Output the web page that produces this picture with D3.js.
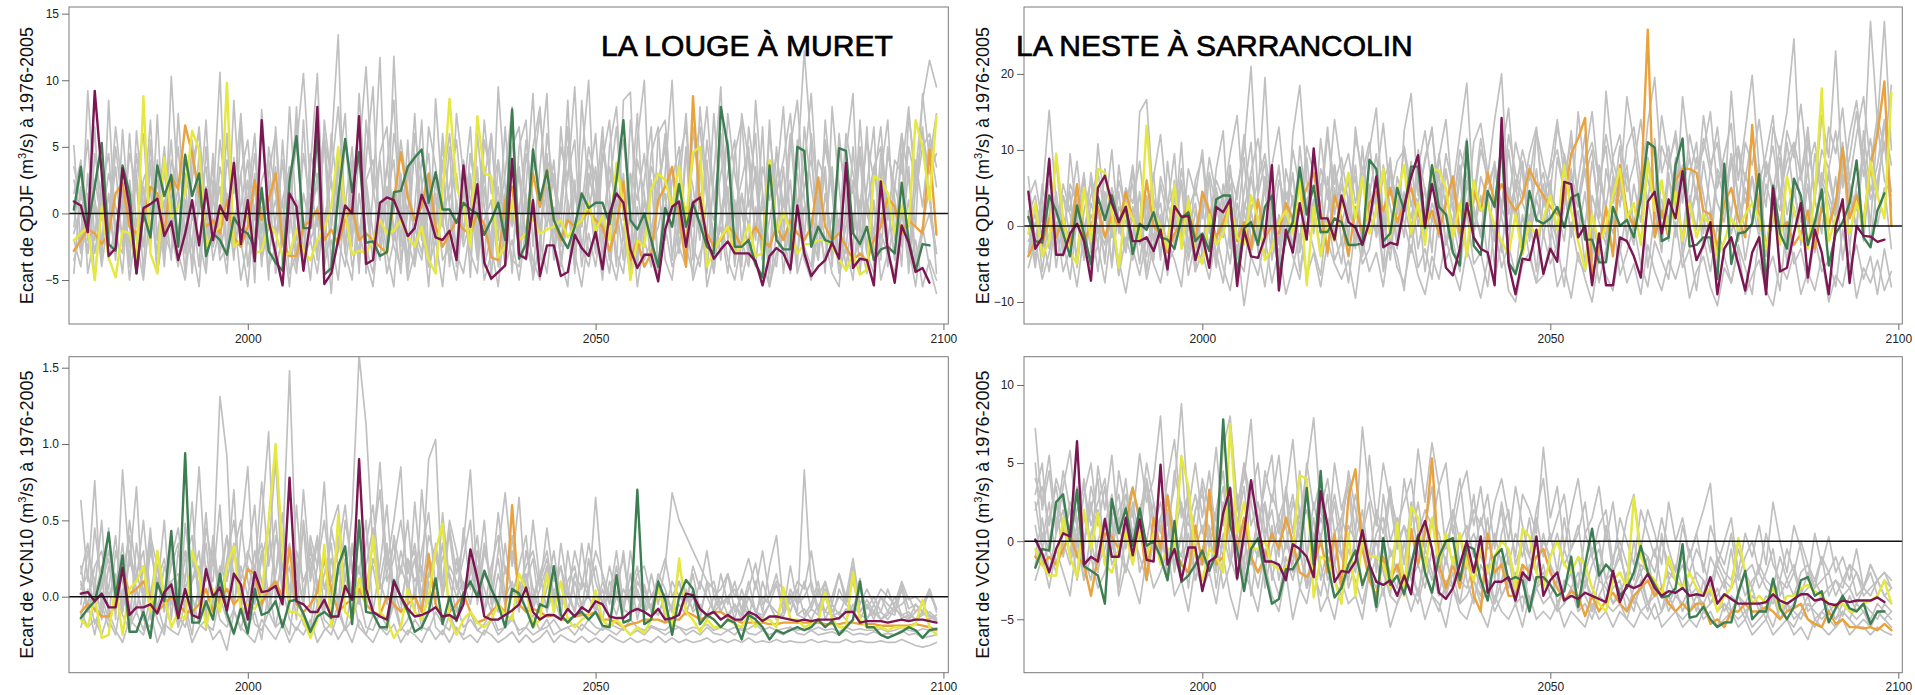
<!DOCTYPE html>
<html><head><meta charset="utf-8">
<script src="https://cdn.jsdelivr.net/npm/d3@7"></script>
<style>body{margin:0;background:#fff}svg{display:block}</style>
</head><body>
<svg id="chart" width="1915" height="695"></svg>
<script>
// Years: QDJF series run 1975-2099, VCN10 series 1976-2099
const startQ = 1975, startV = 1976;
const xTicks = [2000, 2050, 2100];

// ---------- La Louge à Muret, QDJF ----------
const louQ_purple = [0.9,0.6,-1.4,9.2,3.0,
-3.2,-2.6,3.4,0.5,-4.5,0.4,0.7,1.1,-1.7,-0.6,
-3.5,-1.5,1.0,-2.4,1.8,-2.0,0.6,-0.5,3.8,-2.3,
1.0,-3.6,7.0,-0.5,-3.0,-5.4,1.5,0.5,-4.3,-0.5,
8.0,-5.3,-4.5,-2.0,0.6,0.0,7.3,-3.8,-3.5,0.8,
1.2,1.0,-0.3,-1.7,-1.1,1.4,0.1,-1.8,-2.0,-1.3,
-3.5,3.6,-1.0,2.2,-3.7,-4.9,-4.4,-3.9,4.1,-3.1,
-3.4,1.0,-4.7,-2.4,-2.4,-4.7,-4.4,-1.6,-2.6,-3.2,
-1.4,-4.2,0.0,1.5,0.8,-2.7,-4.1,-3.1,-3.1,-5.1,
-1.2,0.5,0.9,-2.5,0.8,1.2,-2.0,-3.4,-2.7,-2.1,
-3.0,-3.0,-3.0,-3.6,-5.4,-3.2,-2.6,-3.0,-4.2,0.6,
-3.0,-4.7,-4.0,-3.5,-2.2,-3.4,3.8,-4.1,-3.4,-3.5,
-5.4,2.4,-2.7,-5.2,-0.9,-2.2,-4.4,-4.1,-5.2];
const louQ_green = [0.3,3.5,-1.0,2.0,5.3,
-2.3,-2.8,3.6,1.5,-4.5,0.0,-1.8,3.6,1.3,2.9,
-2.5,4.4,1.3,3.0,-3.2,-1.5,-2.0,-3.1,-0.3,-1.2,
-1.5,-2.6,1.9,-2.8,-3.7,-4.3,2.4,5.8,-1.1,-1.1,
6.2,-4.6,-4.1,1.2,5.6,1.6,4.6,-2.2,-2.1,-3.2,
-2.9,1.6,1.7,3.5,4.2,4.8,0.8,3.1,0.3,0.3,
-0.7,0.8,0.3,0.0,-1.6,-0.5,0.8,-2.0,7.8,-3.4,
-2.3,4.8,1.0,3.2,-0.5,-1.7,-2.6,-1.0,1.5,0.4,
0.8,0.8,-0.8,2.5,7.0,-0.5,-1.2,0.0,-2.0,-4.0,
0.4,-1.0,2.2,-1.0,0.8,-0.8,-2.5,-3.0,8.0,5.0,
-2.5,-2.5,-2.0,-3.8,-4.8,3.6,-2.0,-2.7,-2.7,5.0,
4.7,-2.5,-1.0,-2.0,-2.2,4.9,4.7,-1.5,-2.3,-1.0,
-3.5,-2.7,-2.5,-3.0,2.3,-2.0,-4.3,-2.3,-2.4];
const louQ_yellow = [-2.0,-1.5,-1.0,-5.0,0.5,
-3.3,-4.8,-1.3,-1.5,-3.5,8.8,-3.0,-4.5,4.2,-0.3,
0.5,1.5,6.2,4.8,-2.5,-1.5,-1.0,9.8,-2.5,-2.0,
0.5,-3.0,-2.8,-0.7,-1.5,-3.2,-3.0,-1.2,-2.8,-3.5,
-2.0,-1.2,0.5,5.0,0.2,-3.1,-2.8,-3.0,-2.0,-0.5,
-1.5,-1.3,-0.5,-1.7,-2.5,-1.0,-3.5,-4.5,1.5,8.6,
2.0,0.5,-2.5,7.3,3.0,2.8,-3.3,-2.5,1.0,-2.0,
-1.5,-0.3,-1.5,-1.2,-1.0,-0.5,-1.8,-1.0,-0.5,0.8,
-1.3,-0.2,-2.0,3.8,0.5,-5.0,-2.0,-2.5,1.8,3.0,
2.5,0.5,3.5,-0.6,4.6,5.0,-4.0,-2.8,-1.8,-1.0,
-3.0,-2.5,-0.8,-3.2,-3.0,4.0,-1.5,0.1,-1.3,-3.0,
-2.3,-2.3,-2.0,-2.0,-2.5,-3.4,-4.3,-3.0,-4.6,-4.2,
2.8,2.5,1.5,-1.5,0.5,-1.0,7.0,5.0,1.0,7.3];
const louQ_orange = [-2.8,-2.0,-1.2,-1.5,-2.3,
-1.5,1.5,2.3,-1.0,-1.5,-0.5,2.0,1.5,-1.5,2.8,
1.8,6.6,4.5,1.5,-1.0,-0.5,-1.5,1.0,-1.8,-2.5,
-1.0,2.5,-0.5,1.0,3.0,-2.2,-3.2,-3.2,-1.0,-0.5,
0.3,-2.0,-1.2,-2.3,-0.5,0.5,-2.0,-1.5,-2.0,-2.5,
-3.0,1.0,4.6,1.2,-0.5,0.5,3.0,-1.0,-2.5,-1.5,
-0.5,-1.2,-1.5,0.0,-0.8,-3.3,-3.5,1.0,2.0,-2.0,
-1.5,3.0,0.5,3.3,-0.5,-2.0,-0.5,-1.0,-0.5,0.2,
-0.5,-1.0,-2.8,-1.0,2.4,-3.5,-2.0,-4.0,-3.0,1.0,
2.0,3.5,0.0,-4.0,8.8,0.5,-1.5,-2.5,-2.0,-1.0,
-1.5,-2.5,-2.0,-1.0,-2.0,-2.5,-1.0,-2.0,-0.5,-1.5,
-2.0,-1.0,2.7,-1.0,-2.0,-1.5,-2.5,-3.5,-3.0,-3.6,
-2.0,-1.0,1.2,0.5,-1.5,-0.5,-1.0,-1.5,4.8,-1.6];
const louQ_grey = [
[5.1,-2.5,9.2,1.0,-3.5,8.5,-1.5,2.0,-4.0,6.2,0.5,-2.8,7.4,-3.0,10.3,1.5,-4.5,3.8,6.0,-2.0,0.8,10.6,-3.5,4.2,-1.0,2.5,-5.2,7.8,0.3,-3.8,5.5,-1.5,8.0,-4.0,3.5,10.5,-2.0,4.8,13.4,-3.0,2.0,6.5,-4.5,1.5,11.7,-2.5,11.8,0.5,-3.5,6.0,2.5,-4.0,8.6,1.0,-2.5,7.5,3.0,-4.8,6.0,0.5,-3.0,9.5,2.0,-4.5,5.0,7.0,-2.5,3.5,9.0,-3.5,1.0,6.5,-4.5,4.0,10.0,-2.0,5.5,1.5,-4.0,8.5,9.1,-3.0,2.5,6.5,-4.5,3.0,10.0,-1.5,5.0,-3.5,8.0,2.0,-4.0,6.0,1.0,-3.5,7.5,4.0,-2.0,6.5,-4.5,2.5,8.0,-1.0,3.5,12.2,5.0,-3.5,7.0,1.5,-4.0,4.5,9.0,-2.5,2.0,6.5,-3.5,5.0,1.0,-4.0,7.5,3.0,8.5,11.5,9.5],
[-4.5,2.0,-1.0,6.5,-2.8,1.5,-3.5,6.3,-0.5,3.0,-4.5,5.5,-2.0,1.0,-3.5,7.5,0.0,-2.5,4.5,-4.0,2.5,-1.5,6.0,-3.0,0.5,4.0,-2.0,1.5,-5.0,6.5,-1.0,3.5,-3.5,7.0,-2.0,-0.5,5.5,-4.0,3.0,7.5,-2.5,9.0,0.5,-3.5,4.5,6.5,-2.0,3.0,-4.5,0.5,7.0,-3.0,2.5,-1.0,5.0,-4.0,1.5,6.5,-2.5,3.5,-5.0,4.0,0.0,7.5,-3.0,2.0,9.0,-2.0,4.5,-3.5,6.5,0.5,-4.0,8.5,1.5,-3.0,4.0,7.0,-1.5,3.0,-4.0,5.5,10.0,-2.5,1.0,6.0,-3.5,2.0,7.5,-1.0,4.0,-4.5,3.0,9.5,-2.0,1.0,-4.0,6.5,2.5,-3.0,7.0,-1.5,3.5,-4.0,5.5,-2.0,6.0,1.0,-4.5,8.0,2.0,-3.0,5.0,-1.5,6.5,-4.0,3.0,7.0,-2.0,4.5,-4.5,2.0,6.5,1.0,-3.0],
[-2.0,-4.0,1.5,-3.0,0.5,-3.5,-1.0,-4.5,2.5,-2.0,-5.0,0.5,-3.0,3.5,-1.5,-4.0,1.0,-2.5,-5.5,2.0,-3.5,-1.0,-4.5,3.0,-2.0,-5.5,0.5,-3.0,2.5,-4.5,-1.5,-5.5,1.0,-3.5,-2.0,-4.5,0.0,-6.0,2.0,-3.0,-5.0,1.5,-2.5,-4.5,0.5,-3.0,-5.5,2.5,-2.0,-4.0,0.0,-5.5,1.5,-3.5,-2.5,-5.0,0.5,-3.0,-4.5,2.0,-2.5,-5.5,0.0,-3.5,-4.0,1.5,-5.0,-2.0,-4.5,0.5,-3.5,-5.5,2.0,-2.5,-4.0,-1.0,-5.0,1.0,-3.0,-4.5,0.5,-5.5,-2.0,-4.0,2.5,-3.5,-5.0,0.0,-2.5,-4.5,1.5,-5.5,-3.0,-1.0,-4.5,0.5,-5.0,-2.5,-4.0,1.5,-5.5,-3.0,-1.5,-4.5,0.0,-3.5,-5.0,1.0,-2.0,-4.5,-5.5,0.5,-3.5,-2.0,-4.5,1.0,-5.0,-3.0,-4.5,0.0,-2.5,-5.5,-1.0,-4.0,-6.0],
[2.5,0.0,-3.0,4.5,1.0,-2.5,5.0,0.5,-3.5,3.0,6.0,-1.5,1.5,-4.0,4.0,2.0,-3.0,5.5,0.0,7.0,-2.5,3.5,1.0,-3.5,6.5,-1.0,3.0,-4.0,5.0,1.5,-2.0,8.0,0.0,-3.0,4.5,2.5,-3.5,6.0,1.0,-2.5,4.0,-4.5,7.0,2.0,-1.5,3.5,8.5,-2.5,5.5,-3.5,2.0,4.5,-2.0,6.0,0.5,-2.5,4.0,1.0,-3.5,5.5,2.5,-2.0,6.5,-1.0,3.0,-3.0,5.0,8.0,0.0,4.0,-2.5,3.0,5.5,-3.0,2.0,6.0,-1.5,3.5,0.5,-3.5,7.0,2.0,-2.5,4.5,6.5,-2.0,2.5,5.0,-3.0,6.5,1.0,-1.5,7.5,0.0,3.0,5.5,-2.5,1.5,6.0,-3.5,4.0,2.0,-2.0,5.0,8.5,1.0,-2.5,4.0,2.5,-3.5,6.0,0.5,-1.5,4.5,-3.0,3.5,5.0,-2.0,2.0,6.0,-3.5,4.0,0.5,5.5,2.0],
[-1.0,3.5,-4.5,-1.5,2.0,4.5,-2.0,-3.0,6.0,-1.0,2.5,4.0,-4.5,0.0,5.5,-2.5,3.0,0.5,-4.0,5.0,-1.0,2.0,-3.0,8.5,-0.5,1.0,6.0,-2.5,-1.0,3.5,-4.0,2.5,6.5,-1.5,0.5,-3.5,7.0,2.5,-2.0,5.5,0.0,-3.0,4.0,9.5,-2.5,1.5,4.0,-3.5,0.0,7.5,-1.5,3.0,-4.5,2.0,6.0,0.5,-2.0,4.5,2.5,-4.0,6.0,-0.5,3.0,8.0,-2.0,4.5,1.0,-3.5,6.0,2.0,-1.0,8.5,-2.5,0.5,5.0,2.5,-3.5,5.0,8.0,0.0,-2.5,4.0,1.5,-4.0,6.0,7.0,0.5,-3.0,4.5,2.0,-2.0,5.5,1.0,-3.5,7.5,3.0,0.0,-2.5,8.5,1.5,-3.5,5.0,-1.0,2.5,-4.0,6.5,2.0,-1.5,3.5,-4.0,5.0,1.5,-3.0,7.0,0.0,-2.0,4.5,1.0,-3.5,6.0,2.5,-1.0,9.0,4.0,7.5],
[0.5,-3.0,3.0,-5.0,1.5,-1.0,3.5,-2.5,0.0,-4.5,2.0,-1.5,4.0,-3.5,1.0,-1.5,2.5,-4.5,1.5,-2.0,4.5,-3.0,0.0,-1.5,3.0,-4.0,0.5,2.0,-3.0,-0.5,4.0,-2.5,-4.5,1.5,-1.0,3.0,-4.0,-1.0,4.5,-2.5,1.0,-4.0,2.5,-1.5,-3.5,2.0,-1.0,-4.5,3.5,-2.0,-3.5,1.0,-1.5,4.0,-4.0,1.0,-2.5,-0.5,3.5,-4.0,-1.5,2.0,-3.5,0.5,3.5,-2.0,-4.5,1.5,-1.0,3.0,-3.5,-0.5,2.5,-4.0,0.0,3.5,-2.0,-4.5,1.0,-1.5,3.0,-3.5,-0.5,2.5,-4.0,0.5,3.5,-2.5,-4.0,1.0,-1.5,4.0,-3.0,-0.5,2.0,-4.0,1.5,-1.0,3.5,-3.0,-0.5,2.5,-4.5,0.0,3.0,-2.5,-4.0,2.0,-0.5,3.5,-3.5,-1.0,2.5,-4.5,1.0,-1.5,3.0,-4.0,0.5,-2.5,3.5,-3.5,-1.0,2.0,-4.5],
[3.5,1.0,5.5,-2.0,2.5,-0.5,6.5,1.5,-2.5,4.5,0.0,7.0,-2.0,3.0,1.0,5.0,-1.5,2.5,6.5,-0.5,3.5,-2.5,4.0,1.5,7.5,0.0,4.5,-1.5,3.0,6.0,-2.5,1.5,5.0,10.5,2.0,-1.0,5.5,3.0,8.0,0.5,-2.0,4.5,11.0,1.5,4.0,-1.5,6.0,2.5,0.0,4.5,-2.0,6.5,3.5,-0.5,2.0,5.5,0.0,3.0,-1.5,7.0,1.5,4.0,-2.0,5.0,6.5,0.0,3.0,7.5,1.5,-1.5,5.0,2.5,9.5,-1.0,4.0,1.0,6.5,-1.0,3.0,5.5,0.5,7.5,-1.5,3.5,2.0,5.0,0.0,4.0,6.5,-1.0,3.0,8.0,1.0,5.0,-1.5,4.5,7.0,0.5,3.0,-2.0,6.0,1.5,4.0,7.5,0.5,3.5,9.0,0.5,5.0,2.0,-1.5,6.0,3.0,0.5,5.5,2.5,6.5,-0.5,4.0,3.0,8.0,1.5,5.0,6.0,3.5],
[-3.5,-1.5,-2.5,0.5,-4.0,0.0,-3.0,1.0,-5.0,-0.5,-2.5,2.0,-4.5,-1.0,0.5,-3.0,-5.0,0.0,-2.0,-4.5,1.5,-3.5,-2.5,0.0,-5.0,-2.0,-3.5,0.5,-4.0,-2.5,1.0,-4.5,-3.0,-1.0,-5.0,0.5,-3.0,-2.0,-5.0,1.0,-4.0,-1.5,-3.5,-5.5,0.0,-4.5,-2.0,0.5,-5.0,-3.0,1.5,-4.0,-2.0,-5.5,0.0,-3.0,-4.5,-1.0,0.5,-5.0,-3.0,1.0,-4.0,-2.0,-5.0,-1.0,-3.5,-5.0,0.5,-2.5,-4.0,1.0,-3.0,-5.5,-1.5,-4.0,0.0,-3.0,-5.0,-1.5,-4.5,0.5,-3.5,-2.0,-5.0,-1.0,-4.0,-2.5,0.5,-5.0,-3.0,-1.5,-4.5,0.0,-3.5,-5.0,-2.0,-4.0,0.5,-3.5,-5.5,-1.5,-3.0,0.0,-4.5,-2.5,-5.0,-1.0,-3.5,0.0,-4.5,-2.5,-5.0,1.0,-3.0,-4.5,-1.5,-3.0,-5.0,0.5,-4.0,-2.0,-5.5,-3.5,-5.0],
[1.5,4.0,-2.0,2.5,-0.5,3.0,0.5,-1.5,4.5,2.0,-2.5,3.5,0.0,5.0,-1.0,2.0,4.5,-0.5,1.5,3.5,-2.0,5.5,1.0,-1.5,3.0,5.5,-0.5,2.5,4.0,-1.5,1.0,3.5,-2.0,4.5,0.5,2.0,6.0,-1.0,3.5,0.5,5.0,-2.0,2.5,4.0,-0.5,3.5,0.0,5.5,1.5,-1.5,4.0,2.0,-0.5,5.0,1.0,3.0,-1.5,4.5,0.5,2.5,6.0,-1.0,1.5,3.5,0.0,5.5,1.0,-1.5,4.0,2.5,0.0,5.0,1.5,-1.0,3.0,0.5,4.5,2.0,6.5,-0.5,3.0,1.0,4.5,-1.5,2.5,5.0,0.5,3.5,-1.0,4.0,6.5,1.0,-0.5,3.0,5.5,0.0,2.5,5.0,-1.5,3.5,1.0,4.5,0.5,6.0,-0.5,2.0,4.0,0.0,5.5,2.5,-1.0,3.0,1.5,5.0,0.5,3.5,-1.0,4.5,2.0,0.0,5.0,2.5,6.0,3.0,4.5],
[-1.5,0.5,-3.0,1.0,-2.0,0.0,-2.5,1.5,-1.0,-3.5,0.5,-2.0,2.5,-1.5,-3.0,1.0,-1.5,-3.5,0.5,2.0,-2.5,-0.5,1.5,-3.0,0.0,-2.0,2.0,-3.5,-1.0,1.0,-2.5,0.5,-4.0,-1.5,1.5,-3.0,-0.5,2.5,-2.0,-4.0,0.0,-1.5,2.0,-3.5,-0.5,1.0,-2.5,-4.0,0.5,-1.0,-3.0,2.0,-2.0,-0.5,-3.5,0.5,-1.5,2.5,-3.0,-0.5,1.0,-4.0,-2.0,0.0,-2.5,-3.5,0.5,-1.5,2.0,-2.5,-4.0,0.0,-1.0,1.5,-3.0,-1.5,0.0,-3.5,2.0,-2.0,-0.5,-4.0,1.0,-2.5,-1.0,1.5,-3.0,-1.0,0.5,-2.5,-4.0,1.0,-1.5,-3.0,0.0,-2.0,1.5,-3.5,-1.0,0.5,-2.5,-4.0,1.0,-2.0,-3.0,0.5,-1.5,-3.5,1.5,-2.0,-0.5,-4.0,0.0,-2.5,1.0,-3.0,-1.0,0.5,-3.5,-2.0,1.0,-4.0,-1.5,0.0,-3.0]
];

// ---------- La Neste à Sarrancolin, QDJF ----------
const nesQ_purple = [4.5,-3.0,-1.5,8.8,-3.8,
-3.8,-1.0,0.3,-2.0,-7.2,5.0,6.6,3.0,0.5,2.5,
-2.0,-2.0,-1.5,-3.3,-0.5,-5.7,2.6,1.2,1.3,-4.5,
-1.2,-5.5,2.5,1.8,3.5,-7.9,-0.5,-4.0,-4.2,-1.5,
8.0,-8.5,-0.5,-3.5,3.0,-1.8,10.2,1.0,1.0,-1.8,
4.0,0.5,-0.2,-2.5,0.5,6.5,-2.8,-2.2,-2.5,2.5,
6.5,9.3,0.0,5.5,1.0,-5.5,-6.5,-3.0,3.0,-1.5,
-3.0,-3.5,-7.8,14.2,-5.0,-9.0,-4.3,-4.5,-0.5,-6.3,
-3.0,-4.7,5.8,5.5,-1.5,0.0,-7.8,-1.0,-7.8,-7.8,
-1.5,-2.0,-4.0,-6.8,3.2,4.5,-1.0,3.5,1.0,7.2,
0.0,-4.5,-2.5,0.5,-9.0,-3.0,-1.5,-5.0,-8.5,-3.5,
-1.5,-9.0,5.0,-6.0,-5.5,-1.0,3.0,-6.8,-0.5,-3.5,
-9.0,0.0,3.5,-7.5,0.0,-1.3,-1.4,-2.1,-1.8];
const nesQ_green = [1.2,-2.0,-2.2,4.0,2.0,
-1.0,-4.0,2.7,-1.0,-5.0,3.8,0.8,4.0,0.5,2.5,
-3.7,0.3,-0.5,1.8,-1.5,-1.8,-3.0,1.0,1.8,-2.0,
-1.0,-3.3,3.5,4.0,4.0,-6.5,-0.3,0.5,-2.5,2.5,
4.0,-6.8,-1.5,0.5,7.7,1.5,5.3,-0.8,-0.8,1.0,
0.5,-2.5,-2.5,-2.3,8.7,7.5,-2.0,-1.0,5.0,2.0,
7.8,7.8,-0.3,8.0,2.5,1.5,-3.5,-5.2,11.1,-2.6,
-3.8,4.6,2.5,10.8,-4.8,-6.3,-3.0,4.6,0.8,0.3,
1.0,2.5,-0.2,3.7,4.2,-1.8,-1.8,-4.8,-4.8,2.5,
0.0,0.8,-1.5,3.5,11.0,10.3,-2.0,-1.5,8.0,11.5,
-2.7,-2.5,-1.5,-1.5,-7.0,8.2,-5.0,-1.0,-0.8,0.3,
6.8,-8.2,5.3,-1.0,-3.0,6.2,4.0,-2.5,0.5,4.8,
-5.2,-1.0,0.5,3.0,8.6,-1.5,-2.8,2.0,4.3];
const nesQ_yellow = [-1.0,3.0,-4.0,-2.0,9.5,
1.0,-3.5,-5.0,5.0,-2.0,7.5,7.0,2.0,-5.5,3.0,
1.0,-2.0,13.2,1.5,0.0,-3.0,5.5,-3.0,3.5,-3.5,
-5.0,1.5,-2.5,-1.0,3.0,-1.5,-2.5,4.0,1.0,-4.5,
-3.0,0.5,2.0,-1.0,6.0,-7.8,2.5,-4.0,0.5,-2.0,
2.5,7.0,1.0,6.5,-1.0,2.0,7.5,-1.5,4.0,8.0,
-1.0,3.0,-2.5,7.5,7.3,5.0,-1.5,3.0,-4.0,6.0,
2.0,3.0,0.0,-2.0,-3.8,1.5,-3.8,0.5,-1.5,1.0,
4.0,-0.5,8.0,2.0,-2.0,-5.7,1.5,-2.5,0.0,4.0,
7.5,1.0,3.0,-2.5,8.5,2.0,6.0,-1.0,4.5,-2.0,
3.0,-1.5,1.5,0.0,-4.0,-2.0,1.0,-0.5,1.5,3.0,
1.0,-3.0,2.0,-2.5,6.5,2.0,-1.5,-3.0,4.0,18.1,
-2.0,1.0,2.5,-1.0,3.0,0.0,8.5,4.0,1.0,17.5];
const nesQ_orange = [-4.0,-2.0,-2.5,1.0,-1.5,
1.0,-3.0,5.5,-2.0,0.0,2.5,-1.5,1.5,0.0,4.5,
1.0,-1.5,6.0,0.0,-1.0,-3.5,-1.0,0.5,3.0,-2.0,
4.5,2.0,-1.5,0.5,3.0,-2.0,0.5,-3.0,3.5,-1.5,
0.0,-1.0,3.0,1.0,2.5,5.0,7.0,2.0,-3.5,4.0,
1.0,-4.0,2.5,-1.0,3.0,4.5,2.0,5.0,0.5,3.0,
5.0,1.5,0.0,2.0,-1.0,3.0,6.5,-1.0,2.0,4.5,
2.0,7.0,3.0,5.5,3.5,2.0,3.5,7.5,5.5,4.0,
2.5,1.5,3.5,9.5,11.5,14.2,-6.5,-3.0,2.5,-4.0,
8.0,2.0,0.0,4.0,25.8,-1.5,2.0,-1.5,6.0,7.5,
7.5,7.0,2.0,1.5,-3.0,3.0,5.0,1.0,-1.5,13.3,
1.0,-3.0,3.0,-0.5,0.5,-2.5,-1.0,2.0,-3.0,2.5,
0.0,3.0,10.3,1.0,4.0,0.5,8.0,12.0,19.0,0.0];
const nesQ_grey = [
[6.5,-2.0,4.0,15.2,3.0,-4.0,9.5,1.0,7.0,-3.5,10.8,2.0,-5.0,8.0,1.5,-2.0,15.0,16.6,3.0,-4.5,8.5,0.0,11.0,-3.0,6.0,9.0,-1.0,7.5,12.5,-3.0,5.0,10.0,21.0,4.0,19.5,2.0,8.0,-2.5,12.0,18.5,6.0,-1.0,11.5,3.5,14.0,7.0,-2.0,13.0,5.5,10.0,15.5,1.0,9.0,-3.0,12.5,17.4,4.0,8.5,13.0,1.5,9.5,5.0,12.0,18.8,3.0,10.0,6.5,14.0,20.0,2.5,11.0,7.0,-1.5,12.5,8.0,4.5,13.0,9.0,2.0,15.0,6.5,10.0,1.0,17.7,8.5,5.0,17.0,11.0,3.5,13.5,19.5,7.0,10.5,2.0,17.0,9.0,4.0,14.5,8.0,11.0,3.0,17.7,6.0,12.5,19.8,7.5,2.5,13.0,9.5,15.0,24.6,6.0,11.0,4.5,14.5,9.0,23.0,5.5,12.0,16.5,8.0,26.9,13.5,26.9,10.0],
[-3.5,3.0,-6.0,1.5,8.5,-1.0,4.5,-5.5,2.0,6.0,-3.0,7.5,0.5,-6.5,3.5,5.5,-2.5,1.0,7.0,-4.0,2.5,9.5,-3.0,4.0,-6.0,3.0,6.5,-4.5,1.5,8.0,-2.0,4.5,11.0,-3.5,6.0,1.0,-5.0,7.5,3.0,-2.5,9.0,0.5,5.5,-4.0,8.0,2.5,6.0,-3.0,10.5,1.0,4.0,-5.5,7.0,3.5,-1.5,8.5,0.0,5.0,-3.5,9.5,2.0,-2.0,6.5,11.5,-1.0,4.0,-4.5,7.5,1.5,10.0,3.0,-3.0,8.0,0.5,5.5,-2.5,9.0,4.5,-1.0,6.0,12.0,1.5,-4.0,7.5,3.0,10.5,-2.0,5.5,0.5,8.5,2.5,-3.5,9.0,4.0,-1.5,6.5,11.0,1.0,-3.5,7.0,3.5,9.5,-2.0,5.0,0.5,8.0,-4.0,4.5,10.5,1.5,6.0,-2.5,12.0,3.5,-1.0,7.5,2.0,11.0,-3.0,5.5,9.0,0.0,13.5,6.0,4.0],
[-5.5,-2.0,-7.0,-3.5,0.5,-6.0,-3.0,-8.0,-1.0,-5.5,-2.5,-7.5,0.0,-4.5,-8.8,-3.0,-6.5,-1.5,-5.0,-7.5,-2.0,-4.5,-8.0,0.5,-6.0,-3.5,-7.0,-1.0,-5.5,-8.5,-2.5,-10.5,-4.0,-6.5,-1.5,-7.5,-3.0,-9.0,-5.5,-1.0,-6.5,-3.5,-8.0,-2.0,-5.0,-7.0,-4.5,-9.5,-2.0,-6.0,-3.5,-8.0,-1.0,-5.5,-7.5,-2.5,-6.5,-9.0,-4.0,-7.0,-1.5,-5.5,-8.5,-3.0,-6.0,-9.5,-4.5,-7.0,-2.0,-8.5,-10.0,-5.0,-3.5,-7.5,-6.5,-2.0,-8.0,-5.5,-9.5,-3.5,-7.0,-10.0,-4.0,-6.5,-8.5,-3.0,-7.5,-5.0,-9.0,-2.5,-6.0,-8.5,-4.5,-7.0,-3.5,-9.5,-6.0,-4.0,-8.0,-10.5,-5.5,-7.5,-3.0,-9.0,-6.5,-4.5,-8.5,-10.5,-5.0,-7.0,-3.5,-9.0,-6.0,-8.5,-4.0,-10.0,-6.5,-8.0,-3.0,-9.5,-5.5,-7.5,-4.5,-8.5,-6.0],
[2.0,-4.5,5.5,0.0,-3.0,4.0,1.5,-4.0,6.5,-1.5,2.5,-5.0,5.0,0.0,-3.5,7.5,-1.0,3.5,-4.5,5.5,1.0,-2.5,6.0,-0.5,3.0,-4.0,7.0,2.5,-1.5,5.5,0.0,9.0,-2.5,4.0,8.5,-1.5,6.0,3.0,-3.0,10.5,2.0,-0.5,7.5,4.5,-2.0,5.5,1.0,8.0,-2.5,4.0,9.5,0.5,-3.0,6.5,3.0,-1.5,10.0,4.5,0.5,7.0,-2.5,5.0,2.0,9.0,-1.0,6.5,3.5,-2.0,11.0,1.5,5.5,8.5,-0.5,4.0,7.0,1.0,-2.0,9.5,5.0,2.5,7.5,-1.5,6.0,10.5,0.5,4.5,8.0,-0.5,6.5,3.0,11.5,1.0,7.0,-1.5,5.5,2.5,9.0,4.0,-1.0,7.5,5.5,1.5,10.0,3.0,6.5,-0.5,8.5,5.0,2.0,11.0,4.0,7.0,0.0,9.5,3.5,6.5,1.5,10.5,5.0,-1.0,12.5,4.5,8.0,14.0,2.5],
[-1.0,1.5,-3.5,4.0,-5.5,1.0,-2.5,3.5,-4.5,0.5,-6.0,2.5,-1.5,4.5,-3.5,1.5,-5.0,3.0,-2.0,0.0,-6.5,4.0,-1.5,-4.0,2.0,-2.5,0.5,-5.5,3.5,-1.0,-6.0,2.0,-3.5,0.0,5.0,-4.5,1.5,-2.0,4.0,-6.0,0.0,3.0,-3.5,6.5,-1.0,-5.0,2.5,0.0,-3.0,5.5,-1.5,2.0,-4.5,4.0,0.5,-3.5,3.5,-6.0,1.0,5.0,-2.5,0.5,7.0,-4.0,2.0,-1.0,4.5,-5.5,2.5,-0.5,6.0,-3.0,1.5,-6.0,3.5,0.0,-4.0,5.5,-1.5,2.0,-5.0,4.0,0.5,-2.5,6.5,-3.5,2.0,-0.5,5.0,-5.5,1.5,3.5,-2.0,7.0,-4.0,0.5,4.5,-3.0,2.0,-6.0,5.5,-1.0,3.0,-4.5,1.0,6.0,-2.5,0.5,4.5,-5.0,2.5,-1.5,5.5,-3.5,3.0,-0.5,6.5,-4.5,2.0,4.5,-2.0,8.0,0.0,5.0,-3.0],
[3.5,6.0,0.5,9.0,-1.5,5.5,2.0,8.5,-0.5,4.0,7.0,1.5,10.0,-1.0,5.0,3.0,8.5,0.0,6.5,12.0,2.5,5.0,-1.5,7.5,4.0,10.0,1.0,6.0,3.5,9.5,14.5,2.0,7.0,11.5,4.5,8.0,13.0,3.5,6.5,1.5,10.5,7.0,2.5,12.0,5.5,9.0,3.0,11.5,7.5,1.0,6.0,13.5,4.0,8.5,10.0,2.5,7.5,12.5,5.0,9.0,14.0,3.5,8.0,1.5,11.0,13.5,7.0,3.0,9.5,15.5,4.5,10.0,6.0,12.5,2.5,8.0,14.0,6.5,11.0,3.5,9.0,15.0,5.5,12.0,7.0,2.5,10.5,13.0,6.0,9.0,4.0,14.5,8.5,11.5,3.0,12.0,7.5,10.0,15.0,5.0,9.5,13.5,2.5,11.0,8.0,14.0,6.5,10.5,3.5,12.5,9.0,16.0,7.5,11.0,5.0,13.0,9.5,15.5,6.0,12.0,17.0,8.0,14.5,10.0,18.5],
[0.0,-5.5,2.5,-2.0,4.5,-3.0,0.0,5.5,-4.5,1.5,-1.0,4.0,-5.5,2.5,0.5,-2.5,4.5,-6.0,0.5,3.0,-3.5,1.0,5.5,-4.5,0.0,2.5,-3.0,5.0,0.0,-5.0,3.0,-1.5,6.5,1.0,-4.0,4.5,-2.0,0.5,7.0,-3.5,3.5,5.0,-1.0,1.5,8.0,-2.5,3.0,6.5,-4.0,1.5,4.5,-1.5,7.5,0.0,3.5,5.5,-3.0,2.0,8.0,-1.5,4.0,0.5,-4.0,6.0,2.5,-1.5,7.0,3.0,-3.5,5.0,1.0,8.5,-2.0,3.5,0.0,6.0,-3.0,2.5,7.5,-0.5,4.5,-4.5,8.0,2.0,-1.0,5.5,1.0,-2.5,7.0,3.5,-1.5,6.0,0.5,9.0,-3.0,4.0,-0.5,8.5,2.5,-4.0,6.5,1.0,-2.0,7.0,3.0,-1.5,5.5,2.0,9.0,-3.0,4.5,0.5,7.5,-2.0,6.0,3.0,-1.0,8.5,4.0,0.0,10.0,-2.5,6.0,11.0,1.5],
[-4.0,0.5,-1.0,-6.0,2.0,-2.0,-7.0,1.0,-3.5,-5.5,0.0,-4.0,2.5,-6.5,-1.5,-4.5,0.0,-7.0,-2.5,1.5,-5.0,-3.0,0.5,-6.5,-2.0,-5.0,1.5,-3.5,-7.5,0.0,-4.0,-6.0,2.0,-3.0,-8.0,-1.5,-5.5,2.5,-4.0,-7.0,0.5,-3.0,-6.5,1.5,-4.5,-2.0,-7.5,0.0,-5.0,-3.0,2.5,-6.0,-1.5,-4.0,-8.5,0.5,-5.5,-3.0,-7.0,1.0,-4.5,-2.0,-6.0,2.0,-5.0,-3.5,-8.0,0.0,-5.5,-2.5,-6.5,1.5,-4.0,-7.5,-1.0,-5.0,-2.5,-8.0,0.5,-4.5,-6.0,-1.5,-7.5,-3.0,1.0,-6.5,-3.5,0.0,-5.0,-8.0,-2.0,-4.5,-7.0,0.5,-5.5,-3.0,-8.5,-1.5,-6.0,0.0,-4.0,-7.5,-2.5,-5.5,-9.0,-1.0,-6.5,-4.0,-8.5,0.5,-5.0,-3.0,-7.5,-1.5,-6.0,-4.5,-8.0,-0.5,-5.5,-2.5,-7.0,-4.0,-9.0,-3.0,-8.0],
[1.5,4.0,-2.0,6.0,2.5,-1.0,5.5,3.0,-2.5,7.0,1.0,4.5,-1.5,6.0,2.0,8.0,0.5,4.0,-2.0,6.5,3.0,-0.5,7.5,2.0,5.0,1.0,9.0,4.0,-1.0,7.0,3.5,12.0,2.0,6.0,9.5,3.0,7.5,0.5,10.0,5.0,2.0,8.5,4.0,13.0,1.5,6.5,9.5,3.0,7.0,11.0,2.5,6.0,8.5,1.5,10.5,5.0,3.0,9.0,12.5,4.0,7.5,2.0,10.0,6.5,3.5,11.5,5.5,8.0,2.5,12.0,7.0,4.0,9.5,13.0,3.0,7.5,10.0,5.0,12.5,3.0,8.5,11.0,6.0,2.5,9.0,12.0,4.5,8.0,14.0,6.0,3.0,10.5,7.5,12.5,5.0,9.0,3.5,11.5,7.0,13.0,4.5,8.0,10.5,6.0,12.0,5.5,9.5,14.5,4.0,8.5,11.0,6.5,13.0,3.5,10.0,7.5,12.5,5.0,9.0,15.0,6.5,11.5,4.0,13.5,8.0],
[-2.0,0.0,3.5,-3.0,1.5,4.0,-1.5,0.5,-4.0,3.0,0.0,-2.5,5.0,1.0,-3.0,2.5,-1.0,-4.0,3.5,0.5,-2.0,6.0,-0.5,2.0,-3.5,4.5,0.0,-2.5,5.5,1.5,-3.5,3.0,0.5,-1.5,6.5,2.0,-2.5,4.5,0.0,7.0,-1.5,3.5,1.0,-3.0,5.0,0.5,3.5,-2.0,6.0,1.5,-1.0,8.0,2.5,-2.5,4.5,1.0,6.5,-1.5,3.0,0.0,7.0,2.5,-2.0,5.5,1.5,-1.0,4.0,8.5,1.0,-2.5,6.0,3.0,0.5,7.5,-1.5,4.5,2.0,-2.0,6.5,3.5,0.0,8.5,2.5,-1.5,5.0,3.0,7.0,0.0,4.5,9.0,1.5,-1.5,6.0,3.5,8.0,1.0,5.0,-1.0,7.5,3.0,0.5,9.5,4.0,-0.5,6.5,2.5,8.0,4.5,0.0,6.5,10.5,2.0,5.0,-1.0,7.0,4.0,1.0,8.5,5.5,2.0,9.5,3.5,6.0,11.0,4.5]
];

// ---------- La Louge à Muret, VCN10 ----------
const louV_purple = [0.02,0.03,-0.03,0.02,
-0.07,-0.07,0.19,-0.12,-0.07,-0.07,-0.05,-0.11,0.03,0.08,
-0.14,0.05,-0.12,-0.14,0.18,0.0,0.06,-0.09,0.15,0.08,
-0.15,0.16,0.03,0.04,0.07,-0.05,0.78,-0.03,-0.05,-0.1,
-0.1,-0.02,-0.13,-0.13,0.07,-0.02,0.9,0.05,-0.1,-0.13,
-0.15,0.1,0.0,-0.08,-0.13,-0.12,-0.1,-0.07,-0.13,-0.12,
-0.15,-0.05,0.31,0.12,-0.13,-0.15,-0.15,-0.12,-0.09,-0.05,
0.06,-0.1,-0.15,-0.12,-0.12,-0.15,-0.08,-0.13,-0.07,-0.1,
-0.03,-0.05,-0.13,-0.14,-0.14,-0.1,-0.08,-0.1,-0.13,-0.08,
-0.15,-0.14,-0.12,0.02,0.01,-0.08,-0.12,-0.1,-0.15,-0.12,
-0.15,-0.15,-0.1,-0.12,-0.16,-0.13,-0.13,-0.14,-0.15,-0.16,
-0.15,-0.16,-0.15,-0.15,-0.15,-0.14,-0.1,-0.1,-0.17,-0.16,
-0.16,-0.16,-0.17,-0.16,-0.15,-0.16,-0.15,-0.15,-0.16,-0.17];
const louV_green = [-0.14,-0.08,-0.03,0.15,
0.42,0.0,0.27,-0.23,-0.23,-0.1,-0.27,0.09,-0.03,0.43,
-0.14,0.94,-0.17,-0.17,-0.03,-0.15,0.15,-0.11,-0.24,-0.08,
-0.24,0.05,-0.12,-0.1,-0.03,-0.2,-0.03,-0.02,-0.11,-0.23,
-0.13,-0.1,-0.14,0.2,0.33,-0.18,0.5,-0.1,-0.11,-0.2,
-0.2,0.11,0.0,-0.1,-0.23,-0.2,-0.1,0.12,-0.18,0.0,
-0.16,0.02,0.1,0.0,0.17,0.05,-0.05,-0.2,0.05,0.02,
-0.08,-0.2,-0.05,-0.07,0.2,-0.12,-0.17,-0.12,-0.1,-0.15,
-0.1,-0.19,-0.2,0.14,-0.17,-0.15,0.7,-0.18,-0.15,0.1,
-0.02,-0.25,0.0,0.11,0.05,-0.18,-0.12,-0.15,-0.2,-0.15,
-0.17,-0.28,-0.12,-0.15,-0.2,-0.28,-0.22,-0.24,-0.22,-0.2,
-0.22,-0.2,-0.15,-0.2,-0.16,-0.25,-0.2,-0.15,0.1,-0.2,
-0.2,-0.25,-0.27,-0.25,-0.23,-0.2,-0.22,-0.27,-0.22,-0.21];
const louV_yellow = [-0.15,-0.2,0.0,-0.27,
-0.25,0.08,-0.25,0.05,0.1,0.2,-0.1,0.3,0.0,-0.2,
-0.1,-0.15,0.3,0.15,-0.2,0.05,-0.1,0.2,0.33,-0.1,
-0.05,-0.08,0.0,0.5,1.0,0.3,-0.1,-0.1,-0.15,-0.27,
-0.15,0.34,-0.2,0.54,-0.1,-0.15,0.12,-0.05,0.4,-0.1,
-0.15,-0.27,-0.2,0.05,-0.1,-0.15,0.0,0.3,0.48,-0.15,
-0.25,-0.15,-0.1,-0.17,-0.2,-0.15,-0.05,-0.12,-0.15,0.15,
0.05,-0.2,-0.15,0.15,-0.1,0.1,-0.15,-0.2,-0.15,-0.12,
0.04,-0.15,-0.2,-0.15,-0.2,-0.25,-0.2,-0.24,-0.15,0.05,
-0.1,-0.2,0.25,-0.1,-0.15,-0.23,-0.15,-0.2,-0.2,-0.15,
-0.18,-0.2,-0.12,-0.2,-0.15,-0.15,-0.2,0.06,-0.15,-0.15,
-0.2,-0.18,-0.16,0.03,-0.15,-0.2,-0.2,0.16,-0.15,-0.2,
-0.2,-0.2,-0.22,-0.2,-0.2,-0.2,-0.18,-0.02,-0.2,-0.25];
const louV_orange = [-0.1,-0.05,-0.08,-0.13,
-0.13,-0.05,0.18,0.02,0.05,0.1,0.0,-0.1,-0.05,0.0,
-0.05,-0.1,-0.1,-0.05,0.05,-0.1,0.0,0.05,-0.05,0.0,
0.18,0.15,-0.05,0.05,0.1,0.0,0.32,-0.05,-0.1,-0.05,
0.03,0.25,0.05,-0.1,-0.05,-0.02,0.05,-0.05,-0.1,-0.12,
0.0,-0.05,-0.1,-0.05,0.0,-0.1,0.28,-0.05,-0.15,-0.1,
-0.05,0.02,-0.1,-0.17,-0.15,-0.1,-0.05,-0.1,0.6,-0.05,
-0.1,-0.08,-0.1,-0.13,-0.12,-0.15,-0.15,-0.13,-0.12,-0.12,
-0.1,-0.15,-0.15,-0.17,-0.2,-0.18,-0.17,-0.15,-0.15,-0.15,
-0.17,-0.15,-0.15,-0.1,-0.12,-0.15,-0.13,-0.1,-0.1,-0.13,
-0.15,-0.17,-0.17,-0.17,-0.17,-0.18,-0.18,-0.17,-0.17,-0.17,
-0.17,-0.17,-0.17,-0.18,-0.18,-0.18,-0.17,-0.17,-0.18,-0.18,
-0.18,-0.19,-0.19,-0.19,-0.19,-0.19,-0.18,-0.19,-0.2,-0.22];
const louV_grey = [
[0.63,0.1,0.76,-0.1,0.45,-0.15,0.83,0.2,0.72,-0.1,0.35,0.05,0.5,-0.15,0.3,0.1,0.62,-0.05,0.45,0.2,1.31,0.92,-0.1,0.4,0.85,0.0,0.5,1.08,-0.05,0.3,1.48,0.15,0.45,-0.1,0.2,0.75,0.0,0.4,0.1,0.55,1.58,1.13,0.3,0.88,0.2,0.5,0.85,-0.05,0.62,0.1,0.9,1.03,0.0,0.45,0.15,0.35,0.83,0.1,0.5,-0.05,0.3,0.68,0.2,0.65,0.0,0.5,0.1,0.25,-0.1,0.35,0.05,-0.1,0.35,0.0,0.65,0.1,-0.05,0.2,-0.1,0.3,0.0,-0.1,0.15,-0.05,0.2,0.68,0.5,0.4,0.3,0.2,0.1,0.05,-0.05,0.15,-0.1,0.0,-0.15,0.1,-0.1,0.2,0.4,-0.05,0.0,-0.1,0.83,0.05,-0.1,0.1,-0.15,0.05,-0.05,0.2,-0.1,-0.05,-0.15,0.0,-0.1,-0.12,0.05,-0.15,-0.1,-0.05,-0.12,-0.15],
[0.2,-0.1,0.05,0.5,-0.15,0.3,0.1,-0.2,0.35,0.0,0.45,-0.1,0.2,0.05,-0.2,0.48,0.1,0.3,-0.15,0.4,0.0,0.15,0.7,-0.1,0.25,0.6,-0.1,0.3,0.9,0.05,0.2,-0.15,0.5,0.1,0.35,-0.1,0.45,0.6,0.0,0.3,0.15,0.5,-0.1,0.2,0.6,0.0,0.3,0.1,-0.1,0.7,0.2,-0.05,0.55,0.1,-0.1,0.45,0.05,0.3,-0.1,0.2,0.4,0.0,0.1,-0.1,0.3,0.05,-0.1,0.2,0.0,-0.15,0.3,0.0,-0.1,0.25,-0.05,-0.15,0.1,0.0,-0.1,0.15,-0.15,0.05,-0.1,0.1,-0.15,-0.05,0.1,-0.1,0.0,-0.15,0.1,-0.1,-0.05,0.0,-0.15,0.05,-0.1,-0.15,0.1,-0.05,-0.15,0.0,-0.1,0.05,-0.12,-0.05,0.1,-0.15,-0.05,-0.12,0.0,-0.1,0.12,-0.15,-0.05,-0.15,-0.1,0.0,-0.12,-0.15,-0.05,-0.1,-0.15,-0.12],
[-0.1,-0.2,-0.15,-0.25,-0.1,-0.22,-0.3,-0.15,-0.2,-0.25,-0.1,-0.3,-0.18,-0.22,-0.25,-0.12,-0.3,-0.2,-0.15,-0.28,-0.22,-0.35,-0.1,-0.2,-0.25,-0.3,-0.15,-0.22,-0.28,-0.18,-0.3,-0.2,-0.25,-0.15,-0.3,-0.22,-0.18,-0.28,-0.2,-0.3,-0.15,-0.25,-0.3,-0.2,-0.25,-0.18,-0.3,-0.22,-0.25,-0.3,-0.2,-0.28,-0.22,-0.3,-0.2,-0.28,-0.25,-0.3,-0.22,-0.25,-0.3,-0.27,-0.23,-0.3,-0.25,-0.3,-0.27,-0.22,-0.3,-0.25,-0.28,-0.3,-0.26,-0.3,-0.27,-0.3,-0.25,-0.28,-0.3,-0.27,-0.3,-0.28,-0.3,-0.26,-0.3,-0.27,-0.3,-0.28,-0.3,-0.29,-0.27,-0.3,-0.28,-0.3,-0.28,-0.3,-0.27,-0.3,-0.29,-0.3,-0.28,-0.3,-0.29,-0.3,-0.3,-0.28,-0.3,-0.29,-0.3,-0.3,-0.28,-0.3,-0.29,-0.3,-0.3,-0.29,-0.3,-0.3,-0.28,-0.3,-0.32,-0.33,-0.32,-0.3],
[0.05,0.15,-0.1,0.1,0.25,-0.05,0.15,0.4,-0.1,0.2,0.0,0.3,-0.05,0.1,0.15,-0.1,0.25,0.05,0.55,-0.05,0.2,0.1,0.35,0.0,-0.1,0.2,0.35,0.0,0.15,0.55,-0.05,0.3,0.1,0.25,-0.05,0.15,0.35,-0.1,0.25,0.0,0.4,0.1,0.2,-0.05,0.3,0.05,-0.1,0.25,0.1,0.2,-0.05,0.35,0.05,0.15,0.0,0.1,-0.05,0.2,0.05,-0.1,0.15,-0.05,0.05,0.1,-0.1,0.0,0.15,-0.1,0.05,0.0,-0.1,0.1,-0.05,0.0,-0.1,0.05,-0.15,0.0,-0.08,-0.12,0.05,-0.1,-0.05,-0.12,0.0,-0.1,-0.12,0.05,-0.1,-0.05,-0.15,-0.08,0.0,-0.12,-0.05,-0.15,0.0,-0.1,-0.12,-0.05,-0.15,-0.1,0.02,-0.12,-0.08,-0.15,-0.05,-0.1,-0.12,-0.15,-0.08,-0.1,-0.15,-0.05,-0.12,-0.1,-0.15,-0.08,-0.12,-0.1,-0.15,-0.12,-0.1,-0.14],
[0.15,0.35,0.0,0.2,0.05,0.4,-0.1,0.3,0.1,0.5,0.0,0.2,-0.1,0.35,0.0,0.25,0.4,-0.05,0.2,0.1,0.6,-0.1,0.3,0.5,0.1,-0.05,0.25,0.45,0.05,0.2,0.35,0.0,0.7,0.15,0.4,0.05,0.25,-0.05,0.5,0.2,0.0,0.35,0.6,0.1,-0.05,0.4,0.15,0.5,0.0,0.3,0.55,0.05,0.25,0.4,0.05,0.25,0.5,-0.05,0.3,0.1,-0.05,0.35,0.0,0.2,0.4,-0.05,0.15,0.3,0.0,0.2,-0.1,0.15,0.05,0.35,0.1,-0.05,0.2,0.0,0.3,-0.1,0.1,0.0,-0.08,0.15,0.05,-0.1,0.2,0.0,-0.08,0.1,0.0,-0.1,0.15,-0.05,0.1,-0.1,0.05,0.22,-0.05,0.0,0.15,-0.1,0.05,-0.05,0.1,-0.08,0.05,-0.1,0.0,0.15,-0.05,-0.1,0.05,-0.08,0.0,-0.1,0.05,-0.08,-0.05,0.0,-0.1,-0.05,0.02,-0.08],
[-0.05,0.3,0.1,-0.15,0.2,0.0,0.35,-0.1,0.15,0.3,-0.15,0.1,0.25,-0.05,0.1,0.3,-0.15,0.05,0.35,-0.1,0.15,0.4,-0.05,0.2,0.0,0.3,0.1,-0.1,0.4,0.2,-0.05,0.6,0.0,0.3,0.1,-0.1,0.45,0.2,0.0,0.35,-0.05,0.2,0.45,0.05,0.15,0.35,-0.05,0.2,0.3,-0.1,0.15,0.05,0.35,-0.1,0.25,0.0,0.15,0.4,-0.1,0.05,0.25,-0.05,0.4,0.0,0.1,0.25,-0.1,0.05,0.3,-0.05,0.1,0.2,-0.1,0.05,0.2,-0.05,0.0,0.3,-0.05,0.05,0.2,-0.1,0.0,0.08,-0.1,0.1,0.0,-0.05,0.15,-0.1,0.05,0.1,-0.1,0.0,0.05,-0.08,0.1,-0.1,0.0,-0.05,0.08,-0.1,0.2,-0.05,0.0,0.1,-0.08,0.05,-0.1,0.0,-0.05,0.1,-0.1,-0.02,-0.1,0.0,-0.05,-0.1,0.08,-0.08,-0.05,-0.1,0.05,-0.1],
[-0.2,-0.05,-0.25,0.0,-0.15,-0.25,0.05,-0.2,-0.1,-0.22,0.0,-0.15,-0.25,0.1,-0.2,-0.05,-0.25,0.1,-0.18,-0.22,0.0,-0.15,-0.25,-0.05,-0.2,-0.1,-0.28,0.05,-0.2,-0.15,-0.25,0.1,-0.18,-0.25,-0.05,-0.2,-0.25,-0.1,-0.22,0.05,-0.2,-0.25,-0.12,-0.2,-0.22,0.0,-0.2,-0.25,-0.15,-0.22,0.1,-0.2,-0.25,-0.12,-0.22,-0.25,-0.1,-0.22,-0.25,-0.15,-0.25,-0.2,-0.12,-0.25,-0.2,-0.25,-0.22,-0.15,-0.25,-0.22,-0.2,-0.25,-0.18,-0.22,-0.25,-0.2,-0.22,-0.25,-0.2,-0.25,-0.22,-0.25,-0.2,-0.22,-0.25,-0.22,-0.2,-0.25,-0.22,-0.25,-0.2,-0.24,-0.25,-0.22,-0.25,-0.2,-0.24,-0.25,-0.22,-0.25,-0.23,-0.25,-0.2,-0.24,-0.25,-0.22,-0.25,-0.24,-0.23,-0.25,-0.22,-0.25,-0.24,-0.25,-0.23,-0.25,-0.24,-0.25,-0.22,-0.25,-0.24,-0.27,-0.26,-0.25],
[0.1,-0.1,0.45,0.05,0.3,0.1,-0.05,0.5,0.15,0.0,0.4,0.2,-0.1,0.25,0.45,0.05,0.2,0.85,0.1,0.3,-0.05,0.25,0.5,0.1,0.3,0.15,0.75,0.2,0.5,0.0,0.3,0.15,-0.05,0.4,0.2,0.5,0.1,0.3,0.6,0.15,0.45,0.05,0.35,0.7,0.1,0.25,0.5,0.15,0.35,0.0,0.4,0.25,0.1,0.5,0.3,0.05,0.2,0.0,0.35,0.1,0.55,0.15,0.3,0.05,0.2,0.3,0.05,0.45,0.1,0.2,0.0,0.3,0.1,0.05,0.3,0.15,0.0,0.1,0.25,-0.05,0.15,0.2,0.0,0.1,0.25,0.0,0.1,-0.05,0.2,0.05,0.3,0.0,0.05,0.15,0.0,0.1,0.25,0.05,0.3,0.0,0.1,0.05,-0.05,0.1,0.05,0.3,0.0,0.1,-0.05,0.15,0.0,0.25,-0.05,0.05,-0.05,0.05,0.0,-0.05,0.1,-0.02,0.0,-0.05,0.05,-0.08],
[0.08,-0.05,0.2,0.3,0.0,0.15,-0.1,0.25,0.05,-0.12,0.3,0.1,0.0,0.2,0.35,-0.05,0.1,0.2,-0.1,0.25,0.05,0.4,0.15,-0.05,0.2,0.05,0.3,-0.1,0.15,0.4,0.05,0.2,-0.05,0.35,0.05,0.25,-0.05,0.15,0.3,0.0,0.2,-0.1,0.25,0.1,0.35,-0.05,0.2,0.05,0.25,-0.1,0.15,0.3,0.0,0.2,0.1,-0.05,0.25,0.0,0.15,0.05,-0.1,0.2,0.05,0.0,0.15,-0.08,0.05,0.2,-0.05,0.1,0.0,-0.1,0.1,0.0,-0.08,0.1,0.0,-0.12,0.05,-0.05,-0.1,0.08,-0.08,-0.12,0.02,-0.1,-0.05,-0.12,0.05,-0.08,-0.12,0.0,-0.1,-0.14,-0.05,-0.12,0.0,-0.1,-0.14,-0.05,-0.1,-0.13,0.0,-0.12,-0.14,-0.08,-0.12,0.0,-0.13,-0.1,-0.15,-0.05,-0.12,-0.14,-0.1,-0.15,-0.12,-0.06,-0.14,-0.12,-0.15,-0.1,-0.13,-0.16],
[-0.12,0.05,-0.18,-0.05,-0.2,0.0,-0.12,-0.22,0.05,-0.15,-0.2,-0.05,-0.22,0.1,-0.12,-0.2,0.0,-0.18,-0.22,0.05,-0.15,-0.2,-0.08,-0.22,0.0,-0.18,-0.22,-0.1,-0.2,0.05,-0.15,-0.22,-0.12,-0.2,0.08,-0.15,-0.2,-0.05,-0.22,-0.15,0.0,-0.2,-0.22,-0.1,-0.2,-0.05,-0.22,-0.15,0.05,-0.2,-0.22,-0.1,-0.18,-0.22,-0.05,-0.2,-0.15,-0.22,-0.18,-0.1,-0.22,-0.2,-0.15,-0.22,-0.2,-0.12,-0.22,-0.2,-0.15,-0.22,-0.2,-0.18,-0.22,-0.15,-0.2,-0.22,-0.18,-0.2,-0.22,-0.15,-0.2,-0.22,-0.19,-0.21,-0.22,-0.18,-0.2,-0.22,-0.2,-0.21,-0.18,-0.22,-0.2,-0.22,-0.2,-0.22,-0.21,-0.18,-0.22,-0.2,-0.22,-0.21,-0.2,-0.22,-0.21,-0.22,-0.2,-0.22,-0.21,-0.23,-0.2,-0.22,-0.21,-0.22,-0.22,-0.21,-0.23,-0.22,-0.2,-0.22,-0.23,-0.21,-0.22,-0.24]
];

// ---------- La Neste à Sarrancolin, VCN10 ----------
const nesV_purple = [0.1,-0.8,-2.0,-0.5,
0.5,0.3,6.4,-1.5,-1.0,-1.3,1.4,-1.0,-1.0,1.5,
-0.9,1.4,-1.2,-1.3,4.9,-1.5,-0.5,-2.5,-0.4,-0.4,
-3.2,-1.3,-1.0,1.8,3.4,-2.4,0.5,3.9,1.0,-1.3,
-1.3,-1.5,-2.5,-0.2,-0.5,-1.0,-2.3,3.2,1.0,-2.6,
-1.9,-2.0,-1.3,0.7,-1.5,-2.6,-2.8,-2.5,-3.5,-2.2,
-3.4,0.2,1.3,-0.5,-3.3,-3.7,-3.0,-1.5,0.0,-2.0,
0.3,-3.3,-2.6,-2.6,-2.3,-3.8,-2.0,-2.5,0.3,-3.5,
-2.5,-2.0,-3.8,-3.5,-3.7,-3.3,-3.5,-3.7,-3.9,-1.9,
-3.9,-2.8,-3.0,-2.8,-2.1,-3.0,-3.5,-3.2,-3.3,-3.0,
-3.5,-3.4,-3.5,-2.3,-4.0,-3.4,-3.7,-4.0,-4.0,-4.0,
-4.0,-3.9,-3.4,-3.8,-4.0,-3.7,-3.4,-3.4,-3.8,-3.7,
-4.0,-4.1,-3.8,-3.9,-3.8,-3.8,-3.8,-3.6,-3.9];
const nesV_green = [-1.7,-0.5,-0.6,2.5,
3.0,0.0,3.3,-1.6,-1.9,-2.2,-4.0,2.7,0.5,2.1,
-0.3,2.1,-0.3,0.0,-1.0,-2.5,1.3,-2.6,-2.2,-1.5,
-0.6,-1.9,-0.8,7.8,1.0,-0.5,-3.2,-0.5,0.2,-2.0,
-4.0,-3.7,-1.8,-1.8,-1.0,3.4,-1.5,4.5,-1.5,-3.6,
-3.0,-1.5,-0.6,-2.8,-1.5,-4.2,0.2,-2.8,-2.2,-3.4,
-1.5,0.4,-2.0,-3.3,-1.0,0.0,0.2,-2.5,-0.3,-0.5,
-2.5,-3.8,-1.0,-0.5,-2.5,-2.3,-2.5,-4.5,-2.3,-2.3,
-2.8,-3.5,-3.2,-1.0,-4.2,-1.5,0.8,-2.2,-1.5,-2.0,
-3.5,-3.0,-2.0,-0.3,-2.0,-2.8,-3.6,-3.5,-3.0,-0.2,
-4.9,-4.8,-4.2,-5.0,-5.5,-5.2,-5.2,-3.3,-1.9,-5.0,
-4.5,-4.5,-2.4,-4.3,-5.0,-4.2,-2.5,-2.3,-3.5,-3.2,
-5.2,-4.3,-3.5,-4.3,-4.5,-4.0,-5.3,-4.5,-4.5];
const nesV_yellow = [-0.5,-1.5,-2.2,-2.2,
1.5,-1.0,-2.3,2.0,-0.5,1.8,-1.5,-2.0,-0.5,0.5,
-1.5,0.7,-1.0,0.5,-1.5,-0.5,-0.5,5.4,3.5,-1.0,
-2.5,-0.5,-1.0,-2.0,7.5,0.5,2.5,-0.5,-0.5,0.0,
-1.5,-1.8,-1.8,-0.5,4.2,4.0,-3.6,-1.0,-1.2,-2.5,
-4.0,0.5,-3.5,0.0,-1.0,-1.0,-1.5,-3.0,1.2,-3.5,
2.2,1.5,-2.0,1.5,-1.5,0.5,-1.5,0.5,-1.5,-2.5,
-0.5,-2.0,-1.0,0.0,-0.5,-3.0,0.8,0.3,-2.0,-3.0,
-1.0,0.0,-1.5,-2.0,-1.0,-1.5,-3.0,-4.0,-4.5,-2.5,
-2.0,-3.0,2.8,-1.0,-2.0,-2.5,-3.5,-1.0,-2.5,-3.0,
-2.0,-3.0,-3.5,-3.0,-4.5,-3.5,-3.0,0.2,-2.0,-4.0,
-3.5,-4.0,-3.0,-4.5,-3.5,-3.5,-3.0,-2.8,-3.2,-3.5,
-4.0,-4.2,-4.0,-4.5,-4.5,-4.0,-3.8,-3.5,-2.5,-4.0];
const nesV_orange = [-1.0,-1.5,-1.0,-1.5,
-0.5,0.5,-1.0,-1.5,-3.5,-1.0,0.5,0.3,-0.5,1.0,
3.4,1.5,-2.5,1.5,-0.5,2.9,-0.5,-1.5,-2.0,1.0,
-1.5,3.3,-1.5,-1.0,1.8,-0.5,1.5,-1.0,-2.0,-1.0,
0.5,-0.5,1.5,0.0,-2.0,-2.3,-1.5,0.0,-2.0,0.5,
-3.0,2.8,4.6,-0.5,-2.5,-3.5,-1.0,-2.5,-1.5,-3.0,
0.8,-1.5,0.5,5.3,-1.5,-3.0,-1.5,-3.0,-0.5,-3.5,
-4.5,0.5,-2.0,-1.5,-3.5,-3.5,-1.5,-2.0,-1.0,-0.5,
-2.0,-3.0,-3.8,-3.2,-3.5,-4.8,-3.5,-4.5,-3.8,-3.3,
-4.0,-4.5,-3.5,-3.0,-2.5,-3.5,-3.0,-4.0,-4.5,-4.0,
-4.5,-4.0,-4.0,-5.3,-5.0,-5.5,-4.5,-4.5,-4.0,-4.5,
-4.5,-4.2,-4.5,-5.0,-4.5,-4.3,-4.0,-5.0,-5.3,-5.5,
-4.5,-5.3,-5.0,-5.5,-5.5,-5.6,-5.5,-5.7,-5.3,-5.7];
const nesV_grey = [
[7.2,2.0,4.5,0.5,3.5,5.8,1.0,4.0,-1.0,4.8,2.0,5.5,0.5,3.0,1.5,5.6,2.5,4.0,8.0,1.0,3.5,8.8,2.0,5.0,1.5,4.5,0.0,6.0,8.0,2.5,4.0,7.8,1.0,3.5,5.5,0.5,3.0,6.5,1.5,4.5,7.9,2.0,0.0,5.0,2.0,4.0,0.5,7.3,3.0,1.0,5.0,2.5,-0.5,4.0,1.0,5.9,2.5,6.3,3.5,5.0,0.5,3.0,4.5,1.0,3.5,0.0,2.5,4.0,1.5,-1.0,3.0,2.0,0.5,6.0,1.5,3.5,-0.5,2.0,4.0,0.5,1.5,3.5,0.0,2.5,-1.0,1.5,3.0,-0.5,2.0,0.5,-1.5,2.5,0.0,1.5,-1.0,0.5,2.0,3.7,-1.5,0.0,1.5,-2.0,0.5,-1.0,1.0,-1.5,2.5,0.0,-2.0,1.0,-0.5,-2.5,0.5,-1.5,0.3,-2.0,-1.0,-2.5,-0.5,-3.0,-1.5,-2.5,-2.0,-3.0],
[3.0,5.0,-0.5,2.5,1.0,-1.0,3.5,0.0,2.0,4.0,-1.5,1.5,3.0,-0.5,2.5,0.0,4.0,1.5,-1.0,3.0,0.5,5.5,-1.0,2.0,3.5,-0.5,2.0,4.5,0.0,1.5,-1.5,3.0,5.0,0.5,2.0,-1.0,3.5,0.5,4.5,-1.0,2.5,0.0,3.0,-1.5,1.5,3.5,-1.0,0.5,2.5,-2.0,3.0,0.0,1.5,-1.5,2.5,-1.0,1.0,3.5,-2.0,0.5,2.0,-1.5,0.0,3.0,-1.0,1.5,-2.5,0.5,2.0,-1.5,0.0,-2.5,1.5,-1.0,0.5,-2.0,1.5,-1.5,-3.0,0.5,-1.0,-2.5,1.0,-2.0,-0.5,-3.0,0.0,-2.0,-1.0,-3.5,0.5,-2.5,-1.5,-3.0,-0.5,-2.5,-3.5,-1.0,-2.0,-3.0,-0.5,-3.5,-2.0,-1.5,-3.0,-2.0,-0.5,-3.5,-2.5,-1.5,-3.5,-2.0,-3.0,-1.0,-3.5,-2.5,-3.0,-1.5,-3.5,-3.0,-2.0,-3.5,-2.5,-3.0],
[-2.5,-1.0,-3.0,-0.5,-2.0,-3.5,0.0,-2.5,-1.0,-3.0,-2.0,0.5,-3.5,-1.5,-2.5,-4.0,-1.0,-3.0,-2.0,-0.5,-3.5,-2.5,-4.5,-1.5,-3.0,-2.0,-4.0,-1.0,-3.5,-5.0,-2.0,-3.0,-4.5,-1.5,-3.5,-4.5,-2.0,-5.0,-3.0,-4.0,-1.5,-4.5,-3.5,-5.0,-2.5,-4.0,-3.5,-5.0,-2.0,-4.5,-3.0,-5.5,-4.0,-3.0,-4.5,-3.0,-5.0,-3.5,-4.0,-5.5,-3.0,-4.5,-5.0,-3.5,-4.5,-5.5,-3.5,-4.5,-5.0,-4.0,-5.5,-3.5,-5.0,-4.5,-5.0,-4.0,-5.5,-4.5,-5.0,-5.5,-4.0,-5.0,-4.5,-5.5,-4.5,-5.0,-5.5,-4.5,-5.0,-4.0,-5.5,-5.0,-4.5,-5.5,-5.0,-5.5,-4.5,-5.0,-5.5,-5.0,-4.5,-5.5,-5.0,-6.0,-5.5,-5.0,-6.0,-5.5,-5.0,-6.0,-5.5,-6.3,-5.0,-5.5,-6.0,-5.5,-5.0,-6.0,-5.5,-5.5,-6.0,-5.5,-5.8,-6.0],
[2.0,3.5,1.0,4.0,2.5,0.5,2.0,3.5,1.0,2.5,4.0,0.0,2.0,3.0,0.5,2.0,3.5,1.0,2.5,0.0,4.5,2.0,1.0,3.0,0.5,2.5,1.5,3.5,0.0,2.0,5.0,1.0,2.5,0.0,3.0,1.5,-0.5,2.5,1.0,3.5,0.0,2.0,4.0,0.5,1.5,0.0,3.0,1.0,-1.0,2.0,0.5,3.5,-0.5,1.0,0.0,2.5,-0.5,1.5,0.5,-1.5,2.0,0.0,1.0,-1.0,1.5,-0.5,0.0,2.0,-1.5,0.5,-1.0,1.5,-2.0,0.0,-1.0,0.5,-1.5,-0.5,1.0,-2.0,-0.5,0.0,-2.5,-1.0,0.0,-1.5,-2.5,-0.5,-1.0,-2.0,0.0,-1.5,-2.5,-1.0,-2.0,-0.5,-1.5,-3.0,-1.0,-2.0,-2.5,-0.5,-2.0,-3.0,-1.5,-2.5,-3.0,-1.0,-2.5,-3.5,-2.0,-1.5,-3.0,-2.5,-2.0,-3.5,-2.5,-3.0,-2.0,-3.5,-3.0,-2.5,-3.5,-3.0],
[5.0,0.0,2.5,-1.5,0.5,2.0,-1.0,1.5,0.0,-2.0,1.0,3.0,-0.5,1.0,-1.5,1.0,0.0,2.5,-1.0,1.5,-2.0,0.5,3.0,-0.5,1.0,-2.0,0.5,-1.0,2.0,-2.5,0.0,-1.5,1.5,-3.0,-0.5,1.0,-2.0,0.0,-3.0,-1.0,1.5,-2.5,-0.5,-1.5,-3.0,-0.5,-2.0,0.5,-2.5,-1.0,-3.5,-0.5,-2.0,0.0,-2.5,-1.5,-3.0,-0.5,-2.0,-3.5,-1.0,-2.5,-3.0,-1.5,-3.0,-2.0,-1.0,-3.5,-2.5,-3.0,-1.5,-4.0,-2.5,-2.0,-3.5,-2.5,-4.0,-3.0,-2.0,-3.5,-4.5,-2.5,-3.0,-4.0,-3.0,-3.5,-4.5,-2.5,-4.0,-3.5,-3.0,-4.5,-3.5,-4.0,-4.5,-3.5,-4.0,-3.0,-4.5,-4.0,-5.0,-3.5,-4.5,-4.0,-4.0,-4.5,-3.5,-5.0,-4.0,-4.5,-5.0,-4.0,-4.5,-5.0,-4.5,-5.0,-4.0,-4.5,-5.0,-4.5,-5.0,-4.0,-4.5,-5.0],
[1.0,-1.5,0.0,2.5,-1.0,1.0,-2.5,0.0,2.5,-1.5,-0.5,1.5,-3.0,0.5,2.0,-2.0,-0.5,0.5,1.5,-2.5,0.0,-1.0,2.0,-2.5,-0.5,1.0,-3.0,0.5,-1.5,3.0,-2.0,0.0,-1.0,2.5,-2.5,0.0,1.0,-2.0,-0.5,-3.0,0.5,-1.5,-3.5,0.0,-1.0,-2.5,0.5,-3.0,-1.5,0.0,-2.0,-3.5,0.5,-2.5,-1.5,-3.5,-0.5,-2.0,-3.5,-1.0,-3.0,0.5,-2.5,-4.0,-1.5,-2.5,-4.0,-1.0,-3.0,-2.0,-4.5,-1.5,-3.0,-2.5,-1.5,-4.0,-3.0,-2.0,-4.5,-2.5,-3.5,-1.5,-4.0,-3.0,-2.5,-4.5,-3.0,-2.0,-4.0,-3.0,-4.5,-2.5,-3.5,-4.0,-3.0,-4.5,-2.5,-4.0,-3.5,-2.5,-4.5,-3.5,-4.0,-3.0,-4.5,-3.5,-4.0,-2.5,-4.5,-4.0,-3.0,-4.5,-4.0,-3.5,-4.5,-4.0,-4.8,-3.5,-4.5,-4.0,-4.5,-5.0,-4.0,-4.5],
[4.0,2.5,5.5,1.0,4.5,2.0,0.0,3.0,5.0,1.0,3.5,-0.5,4.5,2.0,3.5,1.0,5.0,2.5,0.5,4.0,6.5,1.5,3.0,0.0,4.0,2.0,6.0,1.0,3.5,0.5,5.0,2.5,0.0,4.5,2.5,5.5,1.0,3.0,0.0,5.0,2.0,4.0,1.0,3.0,0.5,4.5,2.0,0.0,5.5,1.5,-0.5,3.0,1.0,2.5,4.0,0.5,2.0,1.0,3.5,-0.5,1.5,4.0,0.0,2.0,1.0,3.0,-0.5,2.5,0.0,3.5,1.0,-1.0,2.0,4.0,0.0,1.5,3.0,-0.5,0.5,2.5,-1.0,1.0,2.0,-1.5,1.5,0.0,-1.5,2.0,0.5,-1.0,1.5,-0.5,-2.0,1.0,-1.0,0.5,-2.0,1.0,-0.5,-1.5,0.5,-2.5,-1.0,0.0,-2.0,0.5,-1.5,-2.5,-0.5,-2.0,0.0,-1.5,-2.5,-1.0,-2.0,-1.0,-2.5,-1.5,-2.0,-3.0,-1.5,-2.5,-2.0,-2.5],
[-1.0,1.5,-2.0,0.5,2.0,-1.0,1.0,-2.5,0.5,2.0,-1.5,-0.5,1.5,-2.0,0.0,1.5,-2.5,0.5,-1.0,2.0,-1.5,0.5,-3.0,1.0,-1.5,0.5,-2.0,2.5,-1.0,-2.5,1.0,-3.5,-0.5,-2.0,1.0,-2.5,0.0,-1.5,2.0,-3.0,-1.0,0.5,-2.5,-1.5,0.5,-3.0,-1.5,1.0,-2.5,-3.5,-0.5,-2.0,-3.0,0.0,-2.0,-3.5,-1.0,-2.5,0.0,-3.5,-2.0,-4.0,-1.5,-2.5,-3.5,-1.5,-4.0,-2.5,-1.0,-3.5,-2.0,-4.0,-3.0,-1.5,-3.5,-4.5,-2.5,-3.0,-4.0,-2.0,-4.5,-3.5,-2.5,-4.0,-3.5,-2.0,-4.0,-3.0,-4.5,-2.5,-3.5,-4.0,-3.0,-4.5,-3.5,-3.0,-4.5,-4.0,-3.0,-4.5,-3.5,-4.0,-5.0,-3.5,-4.0,-5.0,-3.5,-4.5,-4.0,-5.0,-4.5,-3.5,-5.0,-4.5,-4.0,-5.0,-4.5,-5.0,-4.0,-4.5,-5.5,-4.5,-5.0,-4.5],
[2.5,-0.5,1.5,3.5,0.5,2.5,1.0,-0.5,3.5,1.5,0.0,2.5,1.0,4.0,0.0,2.0,3.5,-0.5,1.5,3.0,0.5,2.5,-1.0,2.0,3.0,0.5,1.5,-0.5,2.5,1.0,3.5,-1.0,1.5,2.5,0.0,1.5,3.0,-1.0,1.0,2.0,-0.5,1.5,0.0,2.5,-1.0,1.0,0.0,2.0,-1.5,0.5,1.5,-1.0,0.0,1.0,-1.5,0.5,-0.5,1.5,-2.0,0.0,1.0,-1.5,-0.5,0.5,-1.0,-2.0,0.5,-1.5,-0.5,-2.5,0.0,-1.0,-2.0,0.5,-1.5,-2.5,-0.5,-2.0,-1.0,-3.0,-1.5,-0.5,-2.5,-2.0,-1.0,-2.5,-3.0,-1.5,-2.0,-0.5,-3.0,-2.0,-2.5,-1.5,-3.0,-2.0,-2.5,-3.5,-1.5,-2.5,-3.0,-2.0,-3.5,-2.5,-2.0,-3.0,-3.5,-2.5,-3.0,-2.0,-3.5,-3.0,-2.5,-3.5,-3.0,-2.5,-3.5,-3.0,-4.0,-3.0,-3.5,-2.5,-3.5,-4.0],
[-1.5,0.5,-0.5,-2.0,0.0,-1.5,0.5,-1.0,-2.5,0.0,1.5,-1.5,-0.5,-2.0,0.5,-1.0,-2.5,0.0,1.0,-2.0,-0.5,-1.5,0.5,-2.5,-1.0,-2.0,0.0,-3.0,-1.5,0.5,-2.5,-1.0,-3.0,-0.5,-2.0,-3.5,-1.0,-2.5,-0.5,-3.0,-2.0,-3.5,-1.0,-2.5,-3.5,-1.5,-2.5,-4.0,-2.0,-3.0,-1.5,-3.5,-4.0,-2.5,-3.0,-4.0,-2.0,-3.5,-4.5,-2.5,-3.0,-4.0,-3.5,-2.5,-4.0,-3.0,-4.5,-3.5,-2.5,-4.0,-3.5,-4.5,-3.0,-4.0,-3.5,-4.5,-4.0,-3.0,-4.5,-4.0,-5.0,-3.5,-4.0,-4.5,-4.0,-5.0,-3.5,-4.5,-4.0,-5.0,-4.5,-3.5,-4.5,-5.0,-4.5,-4.0,-5.0,-4.5,-5.5,-4.0,-4.5,-5.0,-4.5,-5.5,-5.0,-4.5,-5.5,-4.0,-5.0,-5.5,-4.5,-5.0,-5.5,-4.5,-5.0,-5.5,-4.5,-5.0,-5.5,-5.0,-5.5,-4.5,-5.0,-5.5]
];

const colours = {grey: '#c0c0c0', yellow: '#e5e83d', orange: '#e9a23c', green: '#3c7e52', purple: '#7b1652'};

const panels = [
  {start: startQ, box: [69, 7, 948.3, 324], xDom: [1974.3, 2100.7], yDom: [-8.3, 15.5],
   yTicks: [-5, 0, 5, 10, 15], fmt: d3.format('d'), name: 'QDJF', titleX: 27,
   grey: louQ_grey, lines: {orange: louQ_orange, yellow: louQ_yellow, green: louQ_green, purple: louQ_purple}},
  {start: startQ, box: [1024, 7, 1902.3, 324], xDom: [1974.38, 2100.57], yDom: [-12.9, 28.8],
   yTicks: [-10, 0, 10, 20], fmt: d3.format('d'), name: 'QDJF', titleX: 983,
   grey: nesQ_grey, lines: {orange: nesQ_orange, yellow: nesQ_yellow, green: nesQ_green, purple: nesQ_purple}},
  {start: startV, box: [69, 356.7, 948.3, 672.7], xDom: [1974.3, 2100.7], yDom: [-0.498, 1.572],
   yTicks: [0, 0.5, 1, 1.5], fmt: d3.format('.1f'), name: 'VCN10', titleX: 27,
   grey: louV_grey, lines: {orange: louV_orange, yellow: louV_yellow, green: louV_green, purple: louV_purple}},
  {start: startV, box: [1024, 356.7, 1902.3, 672.7], xDom: [1974.38, 2100.57], yDom: [-8.42, 11.81],
   yTicks: [-5, 0, 5, 10], fmt: d3.format('d'), name: 'VCN10', titleX: 983,
   grey: nesV_grey, lines: {orange: nesV_orange, yellow: nesV_yellow, green: nesV_green, purple: nesV_purple}}
];

const stations = [
  {name: 'LA LOUGE À MURET', x: 601, y: 55.5},
  {name: 'LA NESTE À SARRANCOLIN', x: 1016, y: 55.5}
];

const svg = d3.select('#chart');
const font = '"Liberation Sans", Arial, Helvetica, sans-serif';

panels.forEach((p, i) => {
  const [x0, y0, x1, y1] = p.box;
  const x = d3.scaleLinear().domain(p.xDom).range([x0, x1]);
  const y = d3.scaleLinear().domain(p.yDom).range([y1, y0]);
  const g = svg.append('g');

  const clipId = 'clip' + i;
  svg.append('clipPath').attr('id', clipId)
    .append('rect').attr('x', x0).attr('y', y0).attr('width', x1 - x0).attr('height', y1 - y0);

  const line = d3.line().x((d, k) => x(p.start + k)).y(d => y(d));
  const plot = g.append('g').attr('clip-path', `url(#${clipId})`)
    .attr('fill', 'none').attr('stroke-linejoin', 'round').attr('stroke-linecap', 'round');

  plot.selectAll('path.grey').data(p.grey).join('path')
    .attr('class', 'grey').attr('d', line)
    .attr('stroke', colours.grey).attr('stroke-width', 1.7);

  ['orange', 'yellow', 'green', 'purple'].forEach(key => {
    plot.append('path').datum(p.lines[key]).attr('d', line)
      .attr('stroke', colours[key]).attr('stroke-width', 2.4);
  });

  // reference line at zero
  plot.append('line').attr('x1', x0).attr('x2', x1).attr('y1', y(0)).attr('y2', y(0))
    .attr('stroke', '#111').attr('stroke-width', 1.6);

  // frame
  g.append('rect').attr('x', x0).attr('y', y0).attr('width', x1 - x0).attr('height', y1 - y0)
    .attr('fill', 'none').attr('stroke', '#7a7a7a').attr('stroke-width', 1);

  const yAxis = g.append('g').attr('transform', `translate(${x0},0)`)
    .call(d3.axisLeft(y).tickValues(p.yTicks).tickFormat(p.fmt).tickSize(7).tickPadding(3));
  const xAxis = g.append('g').attr('transform', `translate(0,${y1})`)
    .call(d3.axisBottom(x).tickValues(xTicks).tickFormat(d3.format('d')).tickSize(6).tickPadding(4));
  [yAxis, xAxis].forEach(a => {
    a.select('.domain').remove();
    a.selectAll('.tick line').attr('stroke', '#6a6a6a');
    a.selectAll('.tick text').attr('fill', '#222').style('font-family', font).style('font-size', '12px');
  });

  // rotated axis title with superscript exponent
  const cy = (y0 + y1) / 2;
  const t = g.append('text').attr('transform', `translate(${p.titleX},${cy}) rotate(-90)`)
    .attr('text-anchor', 'middle').attr('dy', '0.35em')
    .style('font-family', font).style('font-size', '18px').attr('fill', '#111');
  t.append('tspan').text(`Ecart de ${p.name} (m`);
  t.append('tspan').attr('dy', -7).style('font-size', '11px').text('3');
  t.append('tspan').attr('dy', 7).text('/s) à 1976-2005');
});

svg.selectAll('text.station').data(stations).join('text')
  .attr('class', 'station').attr('x', d => d.x).attr('y', d => d.y)
  .style('font-family', font).style('font-size', '30px')
  .attr('fill', '#000').attr('stroke', '#000').attr('stroke-width', 0.7)
  .text(d => d.name);
</script>
</body></html>
